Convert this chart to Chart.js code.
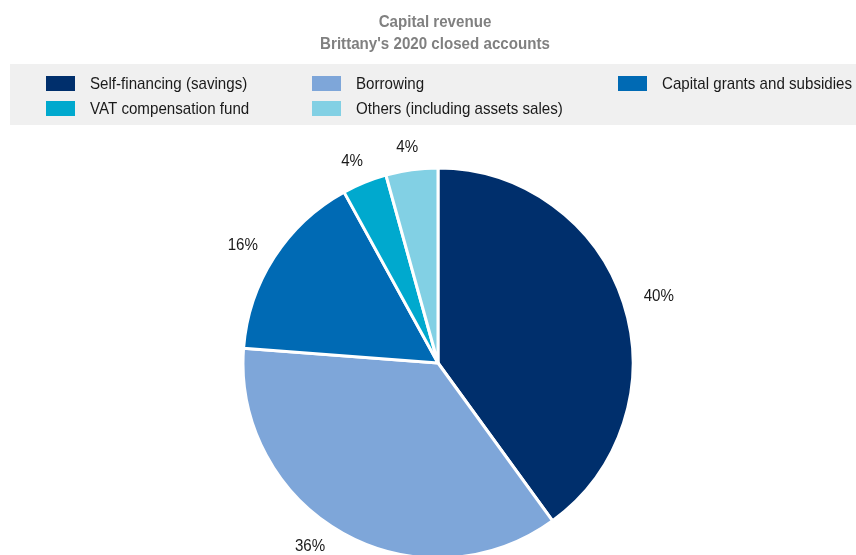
<!DOCTYPE html>
<html>
<head>
<meta charset="utf-8">
<script src="https://cdn.jsdelivr.net/npm/chart.js@4/dist/chart.umd.min.js"></script>
<style>
  html, body { margin: 0; padding: 0; background: #ffffff; overflow: hidden; }
  #wrap { width: 856px; height: 560px; position: relative; }
</style>
</head>
<body>
<div id="wrap"><canvas id="chart" width="856" height="560"></canvas></div>
<script>
// Chart content
const titleLines = ["Capital revenue", "Brittany's 2020 closed accounts"];
const categories = [
  "Self-financing (savings)",
  "Borrowing",
  "Capital grants and subsidies",
  "VAT compensation fund",
  "Others (including assets sales)"
];
const shares = [40.0, 36.2, 15.8, 3.7, 4.3];   // % of capital revenue
const sliceColors = ["#002f6c", "#7ea6d9", "#006ab4", "#00a9ce", "#82d0e4"];

const FONT = "'Liberation Sans', Arial, sans-serif";
const CONDENSE = 0.89;   // horizontal squeeze for a narrow sans look
const VISIBLE_H = 555;

// draw text horizontally condensed around its anchor point
function narrowText(ctx, text, x, y, align) {
  ctx.save();
  ctx.translate(x, y);
  ctx.scale(CONDENSE, 1);
  ctx.textAlign = align;
  ctx.fillText(text, 0, 0);
  ctx.restore();
}

// Title and the grey legend band with its 3-column grid
const headerPlugin = {
  id: "header",
  beforeDraw(chart) {
    const ctx = chart.ctx;
    ctx.save();
    ctx.fillStyle = "#ffffff";
    ctx.fillRect(0, 0, chart.width, chart.height);

    ctx.fillStyle = "#808080";
    ctx.font = "bold 17px " + FONT;
    ctx.textBaseline = "alphabetic";
    narrowText(ctx, titleLines[0], 435, 27, "center");
    narrowText(ctx, titleLines[1], 435, 49, "center");
    ctx.restore();

    ctx.save();
    ctx.fillStyle = "#f0f0f0";
    ctx.fillRect(10, 64, chart.width - 10, 61);

    const colX = [46, 312, 618];
    const rowY = [76, 101];
    ctx.font = "17px " + FONT;
    ctx.textBaseline = "middle";
    categories.forEach((name, i) => {
      const x = colX[i % 3];
      const y = rowY[Math.floor(i / 3)];
      ctx.fillStyle = sliceColors[i];
      ctx.fillRect(x, y, 29, 15);
      ctx.fillStyle = "#1a1a1a";
      narrowText(ctx, name, x + 44, y + 8.5, "left");
    });
    ctx.restore();
  }
};

// Percentage labels just outside each slice
const outsideLabels = {
  id: "outsideLabels",
  afterDatasetsDraw(chart) {
    const ctx = chart.ctx;
    const meta = chart.getDatasetMeta(0);
    const values = chart.data.datasets[0].data;
    ctx.save();
    ctx.font = "17px " + FONT;
    ctx.fillStyle = "#1a1a1a";
    ctx.textBaseline = "middle";
    const h = 14;
    meta.data.forEach((arc, i) => {
      const p = arc.getProps(["x", "y", "startAngle", "endAngle", "outerRadius"], true);
      const text = Math.round(values[i]) + "%";
      const w = ctx.measureText(text).width * CONDENSE;
      const R = p.outerRadius + 17;
      const place = (a) => ({
        x: p.x + Math.cos(a) * (R + w / 2 + 5),
        y: p.y + Math.sin(a) * (R + h / 2)
      });
      let a = (p.startAngle + p.endAngle) / 2;
      let pos = place(a);
      // slide along the ring until the label fits above the bottom edge
      let guard = 0;
      while (pos.y + h / 2 > VISIBLE_H - 2 && guard < 400) {
        a += Math.cos(a) < 0 ? 0.005 : -0.005;
        pos = place(a);
        guard++;
      }
      narrowText(ctx, text, pos.x, pos.y + 1, "center");
    });
    ctx.restore();
  }
};

new Chart(document.getElementById("chart"), {
  type: "pie",
  data: {
    labels: categories,
    datasets: [{
      data: shares,
      backgroundColor: sliceColors,
      borderColor: "#ffffff",
      borderWidth: 3
    }]
  },
  options: {
    responsive: false,
    devicePixelRatio: 1,
    animation: false,
    radius: 195,
    layout: { padding: { top: 168, left: 243, right: 223, bottom: 2 } },
    plugins: {
      legend: { display: false },
      title: { display: false },
      tooltip: { enabled: false }
    }
  },
  plugins: [headerPlugin, outsideLabels]
});
</script>
</body>
</html>
